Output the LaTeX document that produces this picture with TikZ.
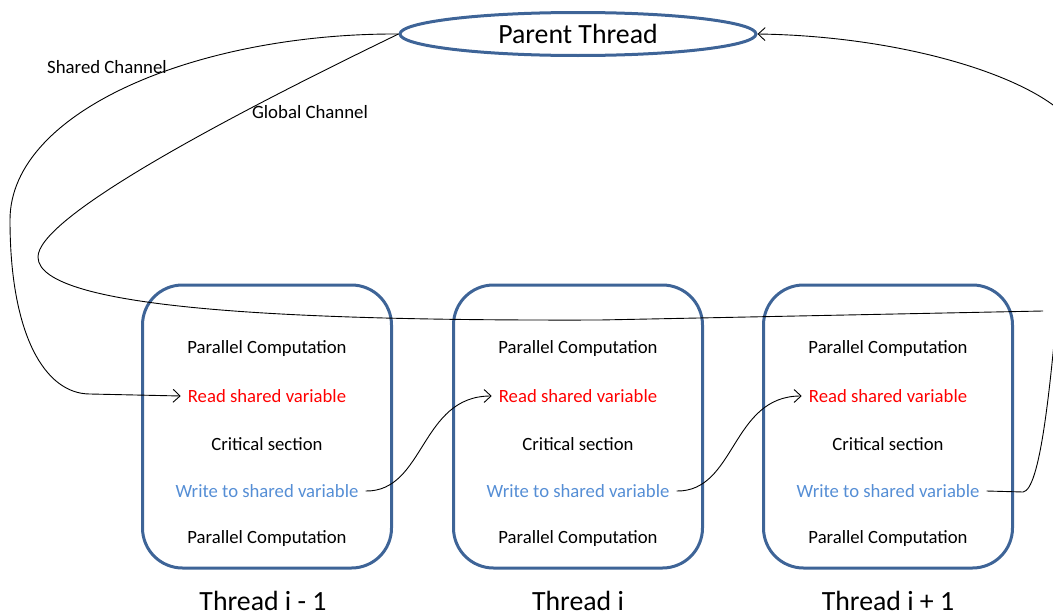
\documentclass[tikz,border=0pt]{standalone}
\usepackage{fontspec}
\setmainfont{Carlito}
\usetikzlibrary{shapes.geometric,arrows.meta}
\definecolor{boxblue}{HTML}{3E6497}
\definecolor{readred}{HTML}{FF0000}
\definecolor{writeblue}{HTML}{558ED5}
\begin{document}
\begin{tikzpicture}[x=1pt,y=-1pt,
  box/.style={draw=boxblue,line width=3pt,rounded corners=40pt,minimum width=249pt,minimum height=283pt},
  ptext/.style={font=\fontsize{18.7pt}{20pt}\selectfont,inner sep=7pt},
  rtext/.style={ptext,text=readred},
  wtext/.style={ptext,text=writeblue},
  big/.style={font=\fontsize{27.8pt}{30pt}\selectfont},
  lbl/.style={font=\fontsize{18.8pt}{20pt}\selectfont},
  conn/.style={line width=0.9pt},
  tip/.style={-{Straight Barb[length=7pt,width=13pt]}}]
\useasboundingbox (0,0) rectangle (1053,613);
\clip (0,0) rectangle (1053,613);
\node[draw=boxblue,line width=3pt,ellipse,minimum width=356pt,minimum height=43pt,inner sep=0pt,big] (par) at (578,34) {Parent Thread};
\foreach \n/\x in {1/267,2/578,3/888}{
  \node[box] (b\n) at (\x,426.5) {};
  \node[ptext] (pa\n) at (\x,349) {Parallel Computation};
  \node[rtext] (r\n) at (\x,396) {Read shared variable};
  \node[ptext] (c\n) at (\x,444) {Critical section};
  \node[wtext] (w\n) at (\x,491) {Write to shared variable};
  \node[ptext] (pb\n) at (\x,539) {Parallel Computation};
}
\node[big] (t1) at (263,601) {Thread i - 1};
\node[big] (t2) at (578,601) {Thread i};
\node[big] (t3) at (888,601) {Thread i + 1};
\node[lbl] (sc) at (107,67) {Shared Channel};
\node[lbl] (gc) at (310,112) {Global Channel};
\coordinate (gend) at (1043,311);
% shared channel
\draw[conn,tip] (par.west) .. controls (200,33) and (10,110) .. (10,220)
  .. controls (10,335) and (45,394) .. (90,394) -- (r1.west);
% global channel
\draw[conn] (par.west) .. controls (200,130) and (38,220) .. (38,257)
  .. controls (38,310) and (300,321) .. (600,320) -- (gend);
% write -> read
\draw[conn,tip] (w1.east) .. controls (425,492) and (420,396) .. (r2.west);
\draw[conn,tip] (w2.east) .. controls (736,492) and (731,396) .. (r3.west);
% write (thread i+1) -> parent
\coordinate (wc) at (1023,492);
\draw[conn,tip] (w3.east) -- (wc) .. controls (1040,490) and (1050,390) .. (1058,300)
  .. controls (1066,220) and (1090,150) .. (1070,120)
  .. controls (1030,75) and (900,36) .. (par.east);
\end{tikzpicture}
\end{document}
